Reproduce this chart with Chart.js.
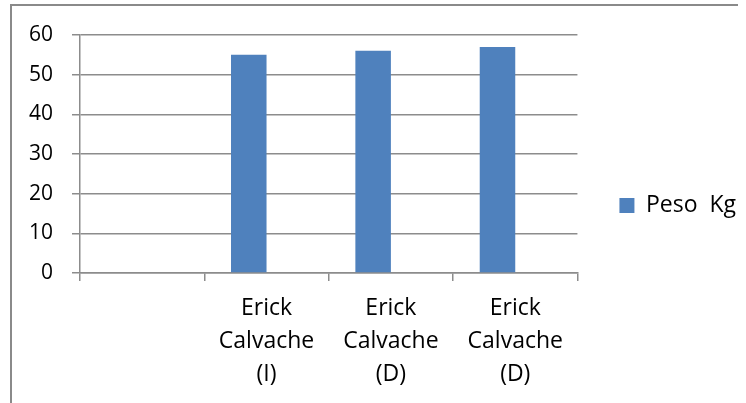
<!DOCTYPE html>
<html>

<head>
  <title>Peso Kg</title>
  <style>
    body { margin: 0; background: #fff; }
    #wrap { position: relative; width: 746px; height: 403px; }
    #frame {
      position: absolute; left: 10px; top: 4px; width: 726px; height: 420px;
      border-left: 2px solid #8a8a8a; border-top: 2px solid #8a8a8a; pointer-events: none;
    }
  </style>
</head>

<body>
  <div id="wrap">
    <canvas id="chart" width="746" height="403"></canvas>
    <div id="frame"></div>
  </div>
  <script src="https://cdn.jsdelivr.net/npm/chart.js"></script>
  <script>
    const labels = ['', ['Erick', 'Calvache', '(I)'], ['Erick', 'Calvache', '(D)'], ['Erick', 'Calvache', '(D)']];
    const peso = [null, 55, 56, 57];
    const empty = [null, null, null, null];
    const yTicks = [0, 10, 20, 30, 40, 50, 60];

    const font = { family: 'Open Sans', size: 21 };
    const bigFont = { family: 'Open Sans', size: 23 };
    const gridColor = '#8c8c8c';

    let ctx = document.getElementById('chart').getContext('2d');
    let barGraph = new Chart(ctx, {
      type: 'bar',
      data: {
        labels: labels,
        datasets: [
          {
            label: 'Peso  Kg',
            data: peso,
            backgroundColor: '#4f81bd',
            borderWidth: 0
          },
          {
            label: '',
            data: empty,
            backgroundColor: '#c0504d'
          }
        ]
      },
      options: {
        responsive: false,
        animation: false,
        layout: { padding: { left: 0, top: 35, right: 0, bottom: 0 } },
        datasets: { bar: { categoryPercentage: 0.5714, barPercentage: 1 } },
        plugins: {
          tooltip: { enabled: false },
          legend: {
            position: 'right',
            align: 'start',
            // blank title only pushes the single legend entry down to the middle
            title: { display: true, text: ' ', font: { size: 1, lineHeight: 1 }, padding: { top: 116, bottom: 0 } },
            labels: {
              boxWidth: 15,
              boxHeight: 15,
              padding: 42,
              color: '#000',
              font: bigFont,
              filter: (item) => item.text !== ''
            }
          }
        },
        scales: {
          x: {
            afterFit: (s) => { s.height = 130; },
            grid: { offset: true, drawOnChartArea: false, drawTicks: true, tickLength: 8, color: gridColor, lineWidth: 1.5 },
            border: { display: true, color: gridColor, width: 1.5 },
            ticks: { color: '#000', font: Object.assign({ lineHeight: 1.435 }, bigFont), padding: 11, maxRotation: 0 }
          },
          y: {
            min: 0,
            max: 60,
            afterFit: (s) => { s.width = 80; },
            afterBuildTicks: (s) => { s.ticks = yTicks.map(v => ({ value: v })); },
            grid: { color: gridColor, lineWidth: 1.5, tickLength: 8 },
            border: { display: true, color: gridColor, width: 1.5 },
            ticks: { color: '#000', font: font, padding: 19 }
          }
        }
      }
    });
  </script>
</body>

</html>
